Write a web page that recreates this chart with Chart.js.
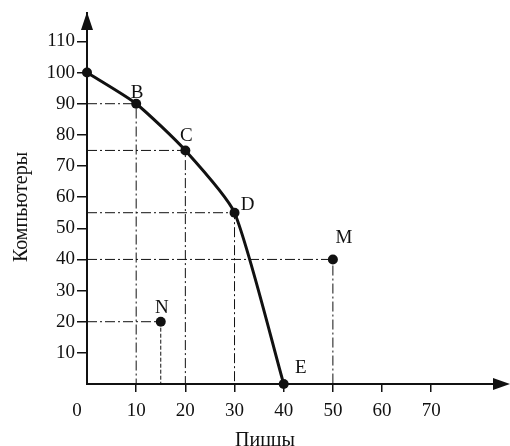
<!DOCTYPE html>
<html>
<head>
<meta charset="utf-8">
<script src="https://cdn.jsdelivr.net/npm/chart.js@4.4.1/dist/chart.umd.min.js"></script>
<style>
  html, body { margin: 0; padding: 0; background: #fff; }
  #wrap { width: 510px; height: 446px; position: relative; }
</style>
</head>
<body>
<div id="wrap"><canvas id="ppf"></canvas></div>
<script>
// производственные возможности: пиццы / компьютеры
const pointNames = ['', 'B', 'C', 'D', 'E'];
const pizzas = [0, 10, 20, 30, 40];
const computers = [100, 90, 75, 55, 0];

const extraNames = ['M', 'N'];
const extraPizzas = [50, 15];
const extraComputers = [40, 20];

const xTicks = [10, 20, 30, 40, 50, 60, 70];
const yTicks = [10, 20, 30, 40, 50, 60, 70, 80, 90, 100, 110];

const FONT = '"Liberation Serif", "Times New Roman", serif';
const INK = '#111';

// смещения подписей точек (в пикселях)
const labelOffsets = {
    B: [1, -11], C: [1, -14], D: [13, -8], E: [17, -16], M: [11, -21], N: [1, -14]
};

function guide(x, y, dashedDown) {
    return {
        type: 'line',
        data: [{x: 0, y: y}, {x: x, y: y}, {x: x, y: 0}],
        borderColor: INK,
        borderWidth: 1,
        borderDash: [10, 3, 2, 3],
        segment: dashedDown ? {borderDash: ctx => ctx.p0DataIndex === 1 ? [4, 2] : [10, 3, 2, 3]} : {},
        pointRadius: 0,
        tension: 0,
        clip: false
    };
}

const guides = [];
for (let i = 1; i < pizzas.length - 1; i++) guides.push(guide(pizzas[i], computers[i], false));
guides.push(guide(extraPizzas[0], extraComputers[0], false));
guides.push(guide(extraPizzas[1], extraComputers[1], true));

const arrowsAndLabels = {
    id: 'arrowsAndLabels',
    afterDatasetsDraw(chart) {
        const ctx = chart.ctx;
        const xs = chart.scales.x, ys = chart.scales.y;
        const x0 = xs.getPixelForValue(0), y0 = ys.getPixelForValue(0);
        ctx.save();
        ctx.fillStyle = INK;
        // стрелки осей
        ctx.beginPath();
        ctx.moveTo(x0, 12);
        ctx.lineTo(x0 - 6, 30);
        ctx.lineTo(x0 + 6, 30);
        ctx.closePath();
        ctx.fill();
        ctx.beginPath();
        ctx.moveTo(510, y0);
        ctx.lineTo(493, y0 - 6);
        ctx.lineTo(493, y0 + 6);
        ctx.closePath();
        ctx.fill();
        ctx.lineWidth = 2;
        ctx.strokeStyle = INK;
        ctx.beginPath();
        ctx.moveTo(x0, 28);
        ctx.lineTo(x0, chart.chartArea.top);
        ctx.moveTo(chart.chartArea.right, y0);
        ctx.lineTo(495, y0);
        ctx.stroke();

        // подписи точек
        ctx.font = '19px ' + FONT;
        ctx.textAlign = 'center';
        ctx.textBaseline = 'middle';
        const all = [];
        pointNames.forEach((n, i) => all.push([n, pizzas[i], computers[i]]));
        extraNames.forEach((n, i) => all.push([n, extraPizzas[i], extraComputers[i]]));
        all.forEach(([n, x, y]) => {
            if (!n) return;
            const o = labelOffsets[n];
            ctx.fillText(n, xs.getPixelForValue(x) + o[0], ys.getPixelForValue(y) + o[1]);
        });

        // ноль и названия осей
        ctx.fillText('0', x0 - 10, 411);
        ctx.font = '20px ' + FONT;
        ctx.fillText('Пиццы', 265, 441);
        ctx.translate(22, 207);
        ctx.rotate(-Math.PI / 2);
        ctx.fillText('Компьютеры', 0, 0);
        ctx.restore();
    }
};

new Chart(document.getElementById('ppf'), {
    type: 'line',
    data: {
        datasets: [
            ...guides,
            {
                data: pizzas.map((x, i) => ({x: x, y: computers[i]})),
                borderColor: INK,
                borderWidth: 3,
                tension: 0.2,
                pointRadius: 5,
                pointBorderWidth: 0,
                pointBackgroundColor: INK,
                pointBorderColor: INK,
                clip: false
            },
            {
                data: extraPizzas.map((x, i) => ({x: x, y: extraComputers[i]})),
                showLine: false,
                pointRadius: 5,
                pointBorderWidth: 0,
                pointBackgroundColor: INK,
                pointBorderColor: INK,
                clip: false
            }
        ]
    },
    options: {
        responsive: true,
        maintainAspectRatio: false,
        animation: false,
        layout: { padding: { top: 12, right: 5, left: 0, bottom: 0 } },
        plugins: {
            legend: { display: false },
            tooltip: { enabled: false }
        },
        scales: {
            x: {
                type: 'linear',
                min: 0,
                max: 85,
                afterBuildTicks: s => { s.ticks = xTicks.map(v => ({value: v})); },
                afterFit: s => { s.height = 62; },
                border: { display: true, color: INK, width: 2 },
                grid: { drawOnChartArea: false, drawTicks: true, tickLength: 8, color: INK, lineWidth: 1.5 },
                ticks: { color: INK, padding: 8, font: { family: FONT, size: 19 }, maxRotation: 0 }
            },
            y: {
                type: 'linear',
                min: 0,
                max: 119,
                afterBuildTicks: s => { s.ticks = yTicks.map(v => ({value: v})); },
                afterFit: s => { s.width = 87; },
                border: { display: true, color: INK, width: 2 },
                grid: { drawOnChartArea: false, drawTicks: true, tickLength: 10, color: INK, lineWidth: 1.5 },
                ticks: { color: INK, padding: 2, font: { family: FONT, size: 19 } }
            }
        }
    },
    plugins: [arrowsAndLabels]
});
</script>
</body>
</html>
